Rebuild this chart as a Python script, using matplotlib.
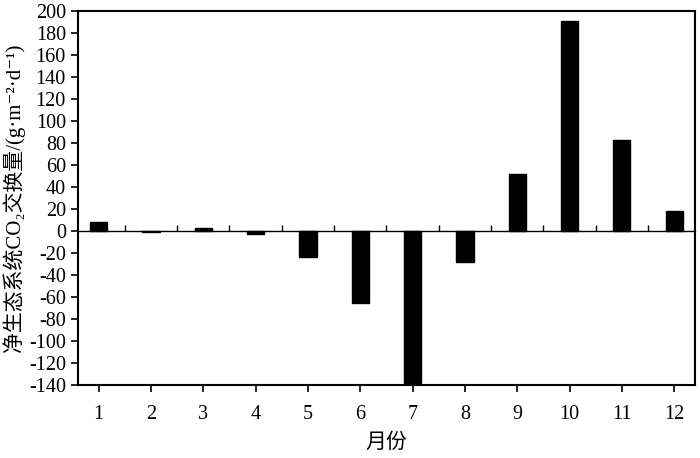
import matplotlib.pyplot as plt

months = [1, 2, 3, 4, 5, 6, 7, 8, 9, 10, 11, 12]
nee = [8, -1, 2.5, -2.5, -23.5, -65, -138, -28, 51.5, 191, 82.5, 18]
yticks = list(range(-140, 201, 20))

plt.rcParams['font.family'] = ['Liberation Serif', 'Noto Sans CJK SC', 'DejaVu Serif']
plt.rcParams['axes.unicode_minus'] = False

fig = plt.figure(figsize=(7, 4.58), dpi=100)
ax = fig.add_axes([0.111, 0.159, 0.882, 0.817])

ax.bar(months, nee, width=0.33, color='black', edgecolor='black', zorder=3)

ax.set_xlim(0.6, 12.4)
ax.set_ylim(-140, 200)
ax.set_yticks(yticks)
ax.set_xticks(months)
ax.tick_params(axis='both', direction='out', labelsize=14.5, length=5, width=1.2)
ax.tick_params(axis='x', pad=9)
for s in ax.spines.values():
    s.set_linewidth(1.5)

# zero line with category boundary ticks
zero = ax.secondary_xaxis(140 / 340)
zero.set_xticks([m + 0.5 for m in months[:-1]])
zero.tick_params(direction='in', length=4, width=1, labelbottom=False)
zero.spines['bottom'].set_linewidth(1)

ax.set_xlabel('月份', fontsize=15, labelpad=7)
ax.set_ylabel('净生态系统CO₂交换量/(g·m⁻²·d⁻¹)', fontsize=15, labelpad=3)

fig.savefig('out.png', dpi=100)
